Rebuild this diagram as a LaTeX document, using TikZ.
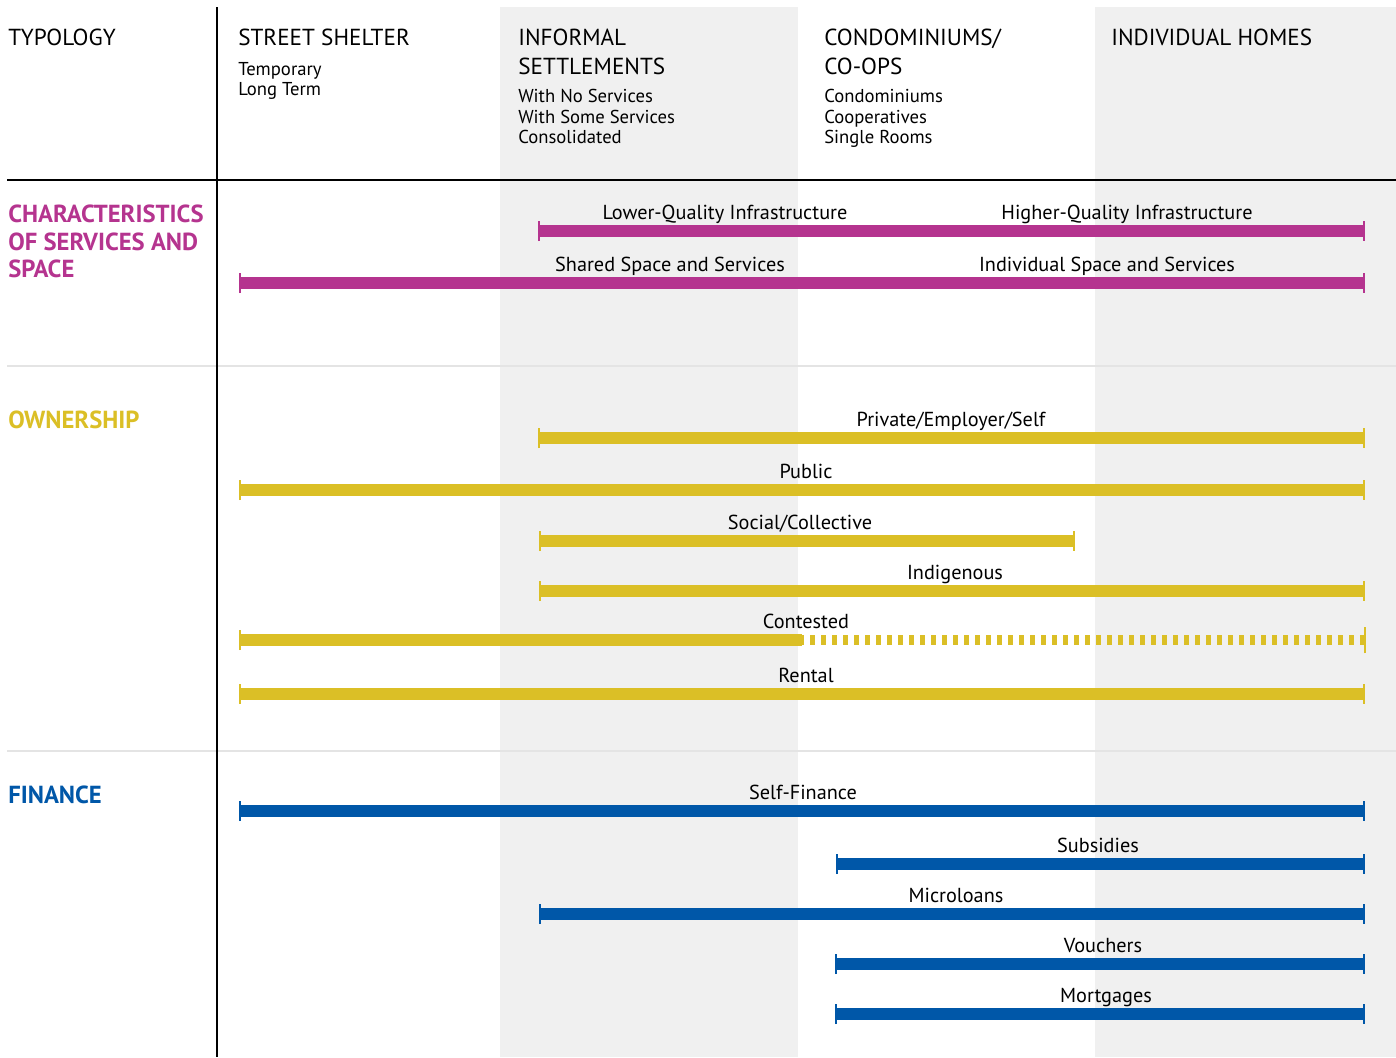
\documentclass[tikz,border=0pt]{standalone}
\usepackage{fontspec}
\setmainfont{PT Sans}
\usetikzlibrary{arrows.meta}
\definecolor{servmagenta}{RGB}{181,52,143}
\definecolor{ownyellow}{RGB}{219,191,38}
\definecolor{finblue}{RGB}{0,87,168}
\definecolor{bandgray}{RGB}{240,240,240}
\definecolor{rulegray}{RGB}{228,228,228}

\begin{document}
\begin{tikzpicture}[x=0.75pt,y=-0.75pt,
    head/.style={anchor=base west,inner sep=0pt,font=\fontsize{17.4}{20}\selectfont},
    subitem/.style={anchor=base west,inner sep=0pt,font=\fontsize{14}{16}\selectfont},
    section/.style={anchor=base west,inner sep=0pt,font=\fontsize{18.5}{20}\selectfont\bfseries},
    barlabel/.style={anchor=base,inner sep=0pt,font=\fontsize{15.2}{17}\selectfont},
    rangebar/.style={line width=8.5pt,
        {Bar[width=15pt,line width=1.5pt]}-{Bar[width=15pt,line width=1.5pt]}},
  ]
  \useasboundingbox (0,0) rectangle (1396,1057);

  % === Background bands and rules ===
  \fill[bandgray] (500,7) rectangle (798,1057);
  \fill[bandgray] (1095,7) rectangle (1396,1057);
  \draw[rulegray,line width=1.5pt] (7,366) -- (1396,366);
  \draw[rulegray,line width=1.5pt] (7,751) -- (1396,751);
  \draw[black,line width=1.1pt] (7,180) -- (1396,180);
  \draw[black,line width=1.1pt] (217,7) -- (217,1057);

  % === Header row ===
  \node[head] (typology) at (8,45) {TYPOLOGY};
  \node[head] (street) at (238,45) {STREET SHELTER};
  \node[subitem] (street-1) at (238,75) {Temporary};
  \node[subitem] (street-2) at (238,95) {Long Term};
  \node[head] (informal-1) at (518,45) {INFORMAL};
  \node[head] (informal-2) at (518,74) {SETTLEMENTS};
  \node[subitem] (informal-3) at (518,102) {With No Services};
  \node[subitem] (informal-4) at (518,123) {With Some Services};
  \node[subitem] (informal-5) at (518,143) {Consolidated};
  \node[head] (condo-1) at (824,45) {CONDOMINIUMS/};
  \node[head] (condo-2) at (824,74) {CO-OPS};
  \node[subitem] (condo-3) at (824,102) {Condominiums};
  \node[subitem] (condo-4) at (824,123) {Cooperatives};
  \node[subitem] (condo-5) at (824,143) {Single Rooms};
  \node[head] (homes) at (1111,45) {INDIVIDUAL HOMES};

  % === Section titles ===
  \node[section,servmagenta] (serv-1) at (8,222) {CHARACTERISTICS};
  \node[section,servmagenta] (serv-2) at (8,250) {OF SERVICES AND};
  \node[section,servmagenta] (serv-3) at (8,277) {SPACE};
  \node[section,ownyellow] (own) at (8,428) {OWNERSHIP};
  \node[section,finblue] (fin) at (8,803) {FINANCE};

  % === Characteristics of services and space ===
  \coordinate (infra-a) at (538,231);
  \coordinate (infra-b) at (1365,231);
  \draw[rangebar,servmagenta] (infra-a) -- (infra-b);
  \node[barlabel] (infra-low) at (725,219) {Lower-Quality Infrastructure};
  \node[barlabel] (infra-high) at (1127,219) {Higher-Quality Infrastructure};

  \coordinate (space-a) at (239,283);
  \coordinate (space-b) at (1365,283);
  \draw[rangebar,servmagenta] (space-a) -- (space-b);
  \node[barlabel] (space-shared) at (670,271) {Shared Space and Services};
  \node[barlabel] (space-indiv) at (1107,271) {Individual Space and Services};

  % === Ownership ===
  \foreach \y/\xa/\xb/\lx/\txt [count=\i] in {
      438/538/1365/951/{Private/Employer/Self},
      490/239/1365/806/{Public},
      541/539/1075/800/{Social/Collective},
      591/539/1365/955/{Indigenous},
      694/239/1365/806/{Rental}}{
    \coordinate (own\i-a) at (\xa,\y);
    \coordinate (own\i-b) at (\xb,\y);
    \draw[rangebar,ownyellow] (own\i-a) -- (own\i-b);
    \node[barlabel] (own\i-lbl) at (\lx,\y-12) {\txt};
  }

  % Contested: solid, then dotted
  \coordinate (cont-a) at (239,640);
  \coordinate (cont-m) at (802,640);
  \coordinate (cont-b) at (1365,640);
  \draw[ownyellow,line width=8.5pt,{Bar[width=15pt,line width=1.5pt]}-] (cont-a) -- (cont-m);
  \draw[ownyellow,line width=7.5pt,dash pattern=on 3.75pt off 4.5pt,dash phase=2pt] (cont-m) -- ([xshift=-1pt]cont-b);
  \draw[ownyellow,line width=1.5pt] ([yshift=-10]cont-b) -- ([yshift=10]cont-b);
  \node[barlabel] (cont-lbl) at (806,628) {Contested};

  % === Finance ===
  \foreach \y/\xa/\xb/\lx/\txt [count=\i] in {
      811/239/1365/803/{Self-Finance},
      864/836/1365/1098/{Subsidies},
      914/539/1365/956/{Microloans},
      964/835/1365/1103/{Vouchers},
      1014/835/1365/1106/{Mortgages}}{
    \coordinate (fin\i-a) at (\xa,\y);
    \coordinate (fin\i-b) at (\xb,\y);
    \draw[rangebar,finblue] (fin\i-a) -- (fin\i-b);
    \node[barlabel] (fin\i-lbl) at (\lx,\y-12) {\txt};
  }
\end{tikzpicture}
\end{document}
